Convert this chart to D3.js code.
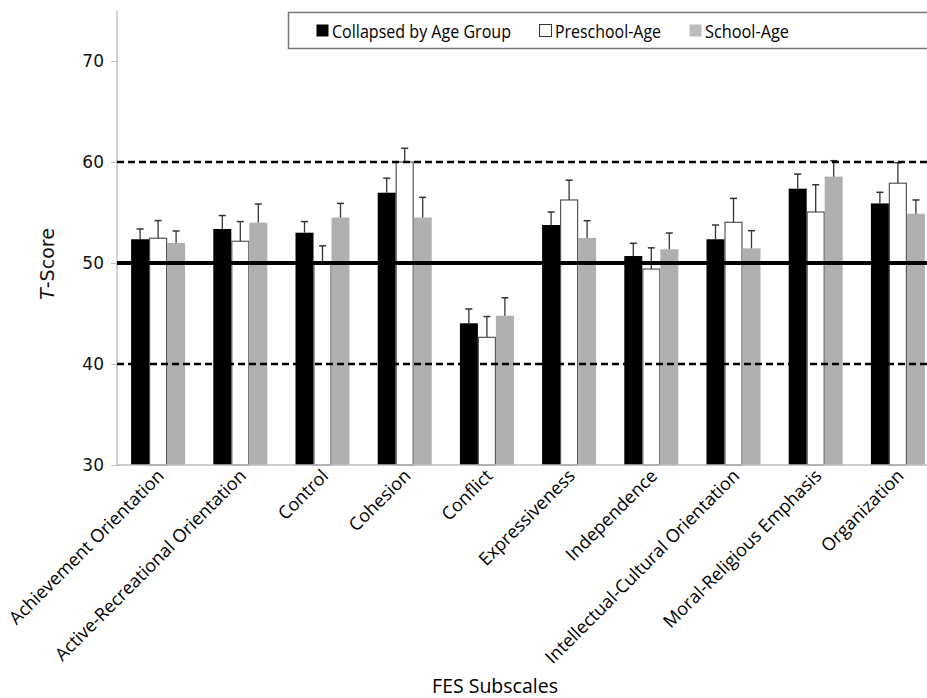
<!DOCTYPE html>
<html>
<head>
<meta charset="utf-8">
<script src="https://cdn.jsdelivr.net/npm/d3@7"></script>
<style>
  body { margin: 0; background: #fff; }
  svg { display: block; overflow: hidden; }
</style>
</head>
<body>
<div id="chart"></div>
<script>
// FES subscale means and upper error bars
var subscales = ["Achievement Orientation", "Active-Recreational Orientation", "Control",
  "Cohesion", "Conflict", "Expressiveness", "Independence",
  "Intellectual-Cultural Orientation", "Moral-Religious Emphasis", "Organization"];
var groups = ["Collapsed by Age Group", "Preschool-Age", "School-Age"];

var collapsedMean = [52.35, 53.37, 53.0, 56.96, 44.03, 53.76, 50.69, 52.35, 57.36, 55.9];
var collapsedErr = [1.02, 1.33, 1.1, 1.44, 1.42, 1.29, 1.26, 1.41, 1.44, 1.1];
var preschoolMean = [52.45, 52.15, 50.0, 60.0, 42.64, 56.24, 49.4, 54.03, 55.05, 57.9];
var preschoolErr = [1.75, 1.95, 1.7, 1.36, 2.06, 1.96, 2.1, 2.37, 2.7, 2.03];
var schoolMean = [51.98, 54.0, 54.5, 54.5, 44.78, 52.48, 51.36, 51.45, 58.55, 54.88];
var schoolErr = [1.19, 1.84, 1.4, 2.0, 1.78, 1.71, 1.61, 1.75, 1.58, 1.36];

var yTicks = [30, 40, 50, 60, 70];
var refSolid = [50];
var refDashed = [40, 60];

var width = 927, height = 698;
var left = 117, bottom = 465;

var means = [collapsedMean, preschoolMean, schoolMean];
var errs = [collapsedErr, preschoolErr, schoolErr];
var fills = ["#000000", "#ffffff", "#b0b0b0"];

var rows = [];
subscales.forEach(function(s, i) {
  groups.forEach(function(g, j) {
    rows.push({sub: s, group: g, j: j, mean: means[j][i], err: errs[j][i]});
  });
});

var svg = d3.select("#chart").append("svg")
  .attr("width", width)
  .attr("height", height);

var y = d3.scaleLinear().domain([30, 75]).range([bottom, 10.5]);

var x0 = d3.scaleBand().domain(subscales).range([left, 939])
  .paddingInner(0.343).paddingOuter(0.1715);
var x1 = d3.scaleBand().domain(groups).range([0, x0.bandwidth()]);

// bars
var bar = svg.append("g").selectAll("g")
  .data(rows)
  .join("g");

bar.append("rect")
  .attr("x", d => x0(d.sub) + x1(d.group) + (d.j === 1 ? 0.5 : 0))
  .attr("y", d => y(d.mean))
  .attr("width", d => x1.bandwidth() - (d.j === 1 ? 1 : 0))
  .attr("height", d => bottom - y(d.mean))
  .attr("fill", d => fills[d.j])
  .attr("stroke", d => d.j === 1 ? "#555" : "none")
  .attr("stroke-width", 1.2);

// error bars (upper only)
var cx = d => x0(d.sub) + x1(d.group) + x1.bandwidth() / 2;
bar.append("line")
  .attr("x1", cx).attr("x2", cx)
  .attr("y1", d => y(d.mean))
  .attr("y2", d => y(d.mean + d.err))
  .attr("stroke", "#333")
  .attr("stroke-width", 1.3);
bar.append("line")
  .attr("x1", d => cx(d) - 3.5)
  .attr("x2", d => cx(d) + 3.5)
  .attr("y1", d => y(d.mean + d.err))
  .attr("y2", d => y(d.mean + d.err))
  .attr("stroke", "#333")
  .attr("stroke-width", 1.5);

// axes
var yAxis = svg.append("g")
  .attr("transform", "translate(" + left + ",0)")
  .call(d3.axisLeft(y).tickValues(yTicks).tickSize(6).tickPadding(7).tickFormat(d3.format("d")));
yAxis.select(".domain").remove();
yAxis.selectAll(".tick line").attr("stroke", "#bbb");
yAxis.selectAll(".tick text")
  .attr("font-family", "DejaVu Sans")
  .attr("font-size", 17)
  .attr("fill", "#111");
svg.append("line")
  .attr("x1", left).attr("x2", left)
  .attr("y1", y(75)).attr("y2", bottom)
  .attr("stroke", "#bbb").attr("stroke-width", 1.3);
svg.append("line")
  .attr("x1", left).attr("x2", width)
  .attr("y1", bottom).attr("y2", bottom)
  .attr("stroke", "#bbb").attr("stroke-width", 1.3);

// reference lines
svg.append("g").selectAll("line")
  .data(refDashed)
  .join("line")
  .attr("x1", left).attr("x2", width)
  .attr("y1", d => y(d)).attr("y2", d => y(d))
  .attr("stroke", "#000").attr("stroke-width", 2.5)
  .attr("stroke-dasharray", "7,4");
svg.append("g").selectAll("line")
  .data(refSolid)
  .join("line")
  .attr("x1", left).attr("x2", width)
  .attr("y1", d => y(d)).attr("y2", d => y(d))
  .attr("stroke", "#000").attr("stroke-width", 4);

// x labels
svg.append("g").selectAll("text")
  .data(subscales)
  .join("text")
  .attr("transform", d => "translate(" + (x0(d) + x0.bandwidth() / 2 + 7) + "," + (bottom + 12) + ") rotate(-45)")
  .attr("text-anchor", "end")
  .attr("font-family", "Open Sans")
  .attr("font-size", 18)
  .attr("fill", "#000")
  .text(d => d);

svg.append("text")
  .attr("x", 495).attr("y", 693)
  .attr("text-anchor", "middle")
  .attr("font-family", "Open Sans")
  .attr("font-size", 19.5)
  .attr("fill", "#000")
  .text("FES Subscales");

var yt = svg.append("text")
  .attr("transform", "translate(54,264) rotate(-90)")
  .attr("text-anchor", "middle")
  .attr("font-family", "DejaVu Sans")
  .attr("font-size", 19)
  .attr("fill", "#111");
yt.append("tspan").attr("font-style", "italic").text("T");
yt.append("tspan").text("-Score");

// legend
svg.append("rect")
  .attr("x", 288.5).attr("y", 12.5)
  .attr("width", 660).attr("height", 36)
  .attr("fill", "#fff")
  .attr("stroke", "#777").attr("stroke-width", 1.5);

var legX = [316, 539, 689];
var legW = [179, 106, 84];
var leg = svg.append("g").selectAll("g")
  .data(groups)
  .join("g")
  .attr("transform", (d, i) => "translate(" + legX[i] + ",0)");
leg.append("rect")
  .attr("x", 0.5).attr("y", 24.5)
  .attr("width", 12).attr("height", 12)
  .attr("fill", (d, i) => i === 2 ? "#bdbdbd" : fills[i])
  .attr("stroke", (d, i) => i === 1 ? "#333" : "none");
leg.append("text")
  .attr("x", 16).attr("y", 37.5)
  .attr("font-family", "Open Sans")
  .attr("font-size", 19)
  .attr("textLength", (d, i) => legW[i])
  .attr("lengthAdjust", "spacingAndGlyphs")
  .attr("fill", "#000")
  .text(d => d);
</script>
</body>
</html>
